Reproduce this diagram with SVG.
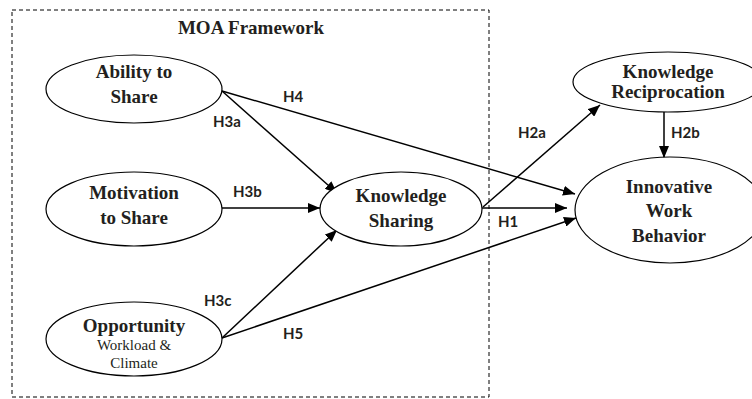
<svg xmlns="http://www.w3.org/2000/svg" width="752" height="399" viewBox="0 0 752 399">
<style>
.n{fill:#fff;stroke:#000;stroke-width:1.2}
.t{font-family:"Liberation Serif","Times New Roman",serif;font-weight:bold;font-size:19px;fill:#231f20;text-anchor:middle}
.s{font-family:"Liberation Serif","Times New Roman",serif;font-size:15px;fill:#231f20;text-anchor:middle}
.l{font-family:Lato,"Open Sans",sans-serif;font-weight:bold;font-size:15px;fill:#231f20}
.c{stroke:#000;stroke-width:1.5;fill:none;marker-end:url(#a)}
</style>
<defs>
<marker id="a" viewBox="0 0 12 10" refX="12" refY="5" markerWidth="12" markerHeight="10" markerUnits="userSpaceOnUse" orient="auto">
<path d="M0,0 L12,5 L0,10 Z" fill="#000"/>
</marker>
</defs>
<rect width="752" height="399" fill="#fff"/>
<g id="moa">
<rect x="12" y="10" width="477" height="387" fill="none" stroke="#000" stroke-width="1" stroke-dasharray="4,3"/>
<text class="t" x="251" y="34">MOA Framework</text>
</g>
<g id="connectors">
<line class="c" x1="222" y1="91" x2="337" y2="193"/>
<line class="c" x1="222" y1="91" x2="575" y2="194"/>
<line class="c" x1="222" y1="208" x2="320" y2="208"/>
<line class="c" x1="222" y1="338" x2="337" y2="230"/>
<line class="c" x1="222" y1="338" x2="576" y2="218"/>
<line class="c" x1="482" y1="208" x2="567" y2="208"/>
<line class="c" x1="483" y1="207" x2="600" y2="105"/>
<line class="c" x1="664" y1="112" x2="664" y2="158"/>
<text class="l" x="283" y="102">H4</text>
<text class="l" x="213" y="127">H3a</text>
<text class="l" x="233" y="197">H3b</text>
<text class="l" x="204" y="306">H3c</text>
<text class="l" x="283" y="339">H5</text>
<text class="l" x="518" y="138">H2a</text>
<text class="l" x="671" y="138">H2b</text>
<text class="l" x="498" y="227">H1</text>
</g>
<g id="ability">
<ellipse class="n" cx="134" cy="89" rx="88" ry="34"/>
<text class="t" x="134" y="78">Ability to</text>
<text class="t" x="134" y="103">Share</text>
</g>
<g id="motivation">
<ellipse class="n" cx="134" cy="209" rx="88" ry="37"/>
<text class="t" x="134" y="199">Motivation</text>
<text class="t" x="134" y="224">to Share</text>
</g>
<g id="opportunity">
<ellipse class="n" cx="134" cy="339" rx="88" ry="37"/>
<text class="t" x="134" y="332">Opportunity</text>
<text class="s" x="134" y="350">Workload &amp;</text>
<text class="s" x="134" y="368">Climate</text>
</g>
<g id="sharing">
<ellipse class="n" cx="401" cy="209" rx="81" ry="37"/>
<text class="t" x="401" y="202">Knowledge</text>
<text class="t" x="401" y="227">Sharing</text>
</g>
<g id="reciprocation">
<ellipse class="n" cx="668" cy="82" rx="95" ry="30"/>
<text class="t" x="668" y="78">Knowledge</text>
<text class="t" x="668" y="98">Reciprocation</text>
</g>
<g id="iwb">
<ellipse class="n" cx="670" cy="210" rx="95" ry="53"/>
<text class="t" x="669" y="193">Innovative</text>
<text class="t" x="669" y="217">Work</text>
<text class="t" x="669" y="242">Behavior</text>
</g>
</svg>
